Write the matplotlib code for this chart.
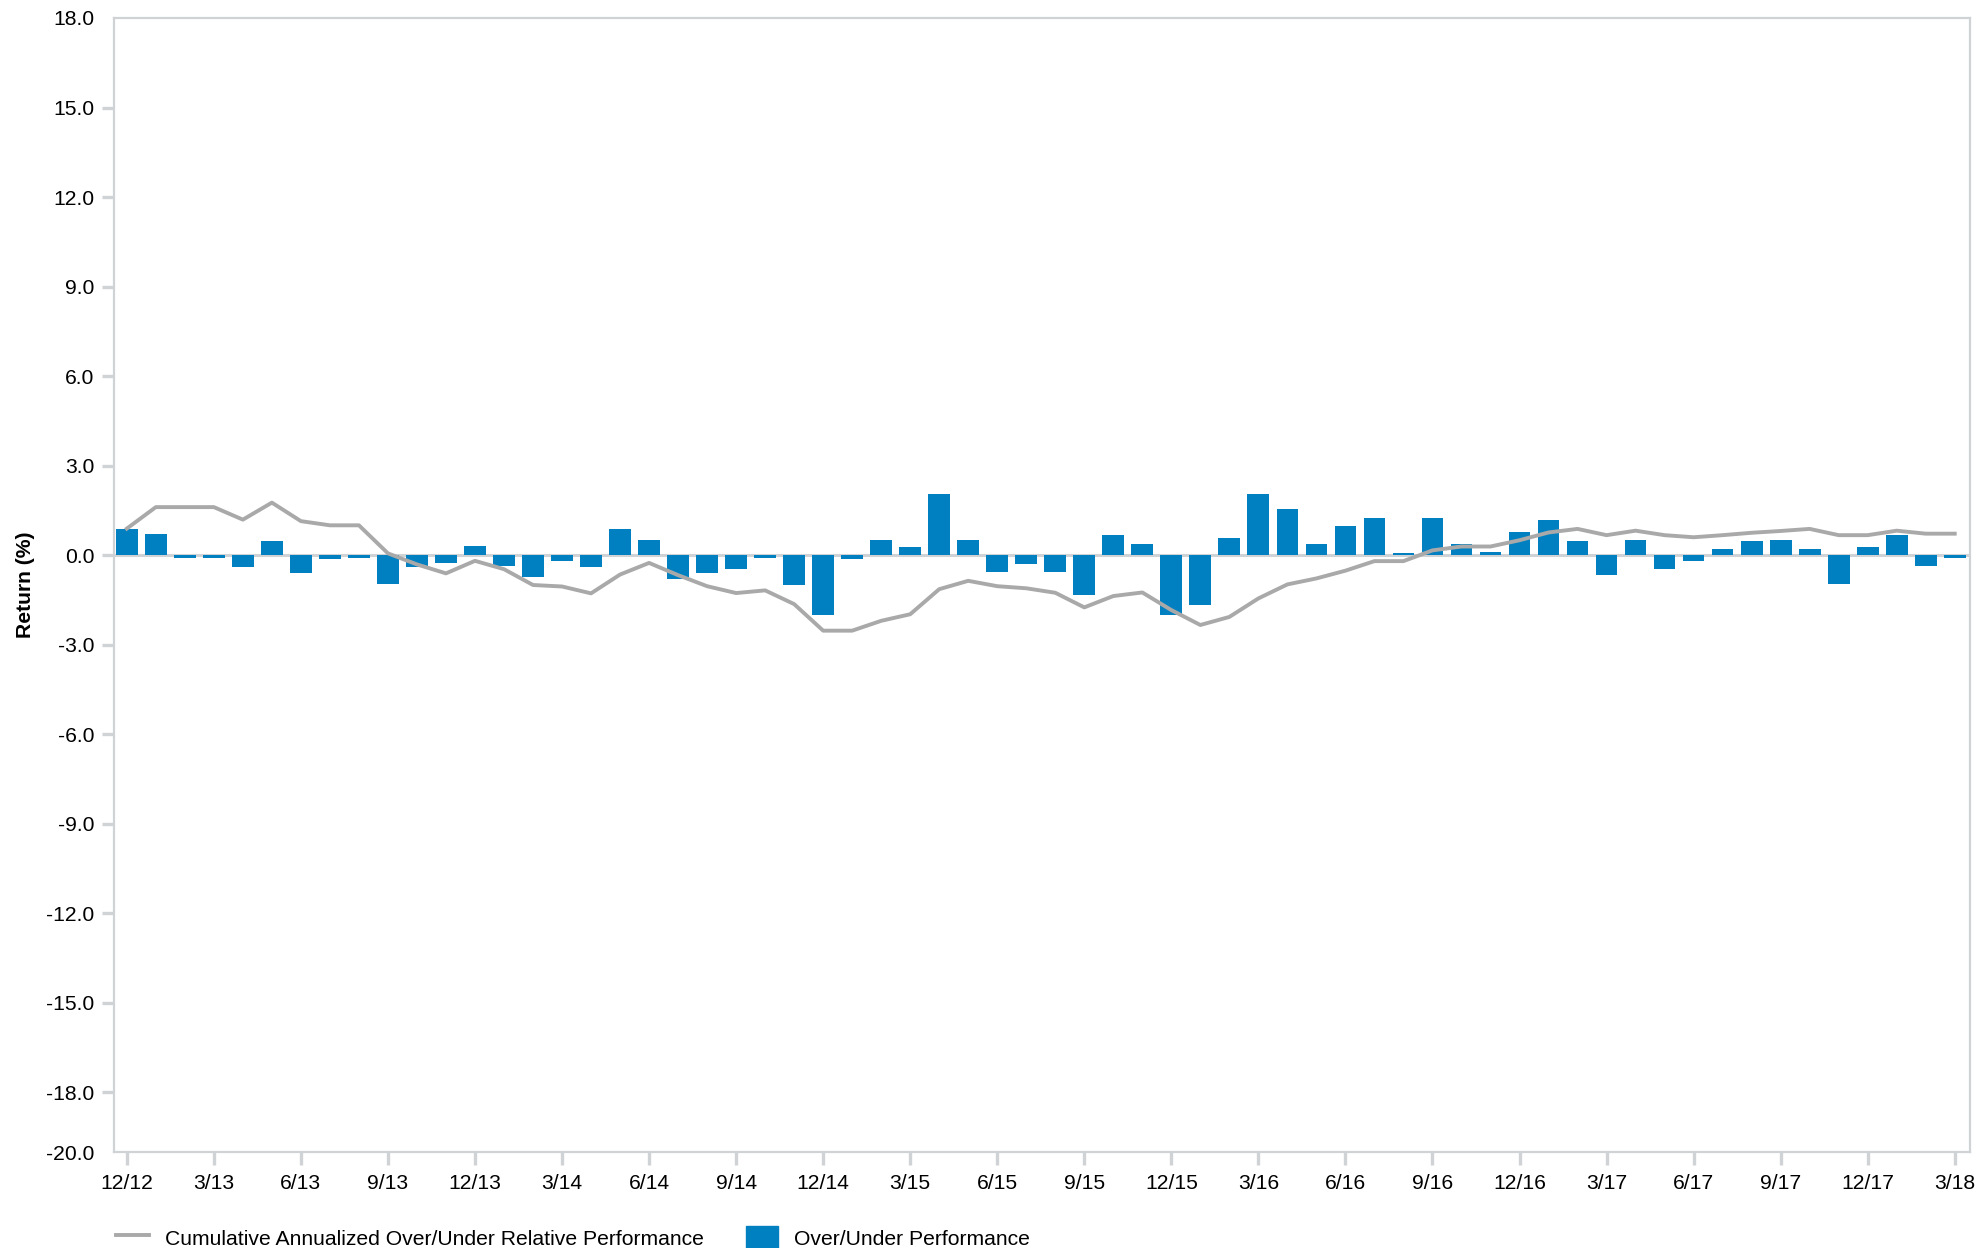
import numpy as np
import matplotlib
matplotlib.use("Agg")
import matplotlib.pyplot as plt
from matplotlib.lines import Line2D
from matplotlib.patches import Patch

plt.rcParams['font.family'] = ['Liberation Sans', 'DejaVu Sans']

# monthly over/under performance (%), 12/12 .. 3/18
over_under = [
    0.86, 0.72, -0.08, -0.08, -0.40, 0.46, -0.61, -0.13, -0.08, -0.95, -0.40, -0.27, 0.32,
    -0.35, -0.74, -0.21, -0.40, 0.86, 0.52, -0.80, -0.61, -0.48, -0.08, -1.01, -2.01,
    -0.13, 0.52, 0.26, 2.06, 0.52, -0.55, -0.28, -0.55, -1.34, 0.66, 0.39, -2.01,
    -1.67, 0.59, 2.06, 1.53, 0.39, 0.99, 1.26, 0.06, 1.26, 0.39, 0.12, 0.79,
    1.19, 0.46, -0.68, 0.52, -0.48, -0.21, 0.19, 0.46, 0.52, 0.19, -0.95, 0.26,
    0.66, -0.35, -0.08,
]

# cumulative annualized over/under relative performance (%)
cumulative = [
    0.89, 1.61, 1.61, 1.61, 1.19, 1.76, 1.14, 1.00, 1.00, 0.06, -0.31, -0.61, -0.19,
    -0.47, -1.00, -1.05, -1.28, -0.65, -0.26, -0.67, -1.04, -1.27, -1.18, -1.64, -2.53,
    -2.53, -2.20, -1.98, -1.14, -0.86, -1.04, -1.11, -1.26, -1.75, -1.37, -1.25, -1.84,
    -2.34, -2.07, -1.45, -0.98, -0.78, -0.52, -0.20, -0.20, 0.16, 0.29, 0.29, 0.50,
    0.76, 0.88, 0.67, 0.82, 0.67, 0.60, 0.67, 0.75, 0.81, 0.88, 0.67, 0.67,
    0.82, 0.72, 0.72,
]

tick_labels = ['12/12', '3/13', '6/13', '9/13', '12/13', '3/14', '6/14', '9/14',
               '12/14', '3/15', '6/15', '9/15', '12/15', '3/16', '6/16', '9/16',
               '12/16', '3/17', '6/17', '9/17', '12/17', '3/18']

y_ticks = [18, 15, 12, 9, 6, 3, 0, -3, -6, -9, -12, -15, -18, -20]

bar_color = '#0080C1'
line_color = '#A9A9A9'
axis_gray = '#D0D3D6'
fs = 15.2

x = np.arange(len(over_under))

fig = plt.figure(figsize=(19.8, 12.48), dpi=100)
ax = fig.add_axes([0.0576, 0.0769, 0.9374, 0.9087])

ax.axhline(0, color=axis_gray, lw=2.2, zorder=1)
ax.bar(x, over_under, width=0.75, color=bar_color, zorder=2)
ax.plot(x, cumulative, color=line_color, lw=2.8, zorder=3)

ax.set_xlim(-0.44, 63.53)
ax.set_ylim(-20, 18)
ax.set_xticks(x[::3])
ax.set_xticklabels(tick_labels)
ax.set_yticks(y_ticks)
ax.set_yticklabels([f'{v:.1f}' for v in y_ticks])

for s in ax.spines.values():
    s.set_color(axis_gray)
    s.set_linewidth(1.6)

ax.tick_params(axis='both', colors=axis_gray, length=9, width=2.4,
               labelsize=fs, labelcolor='black')
ax.tick_params(axis='x', pad=7)
ax.tick_params(axis='y', pad=5)
for t in ax.yaxis.get_major_ticks():
    if t.get_loc() in (18, -20):
        t.tick1line.set_visible(False)

ax.set_ylabel('Return (%)', fontsize=fs, fontweight='bold', labelpad=8)

handles = [Line2D([0], [0], color=line_color, lw=2.8),
           Patch(color=bar_color)]
labels = ['Cumulative Annualized Over/Under Relative Performance',
          'Over/Under Performance']
fig.legend(handles, labels, loc='lower left', bbox_to_anchor=(0.049, -0.017),
           ncol=2, frameon=False, fontsize=fs, handlelength=1.55,
           handleheight=1.4, columnspacing=2.0, handletextpad=0.75)

plt.savefig('out.png', dpi=100)
plt.close()
